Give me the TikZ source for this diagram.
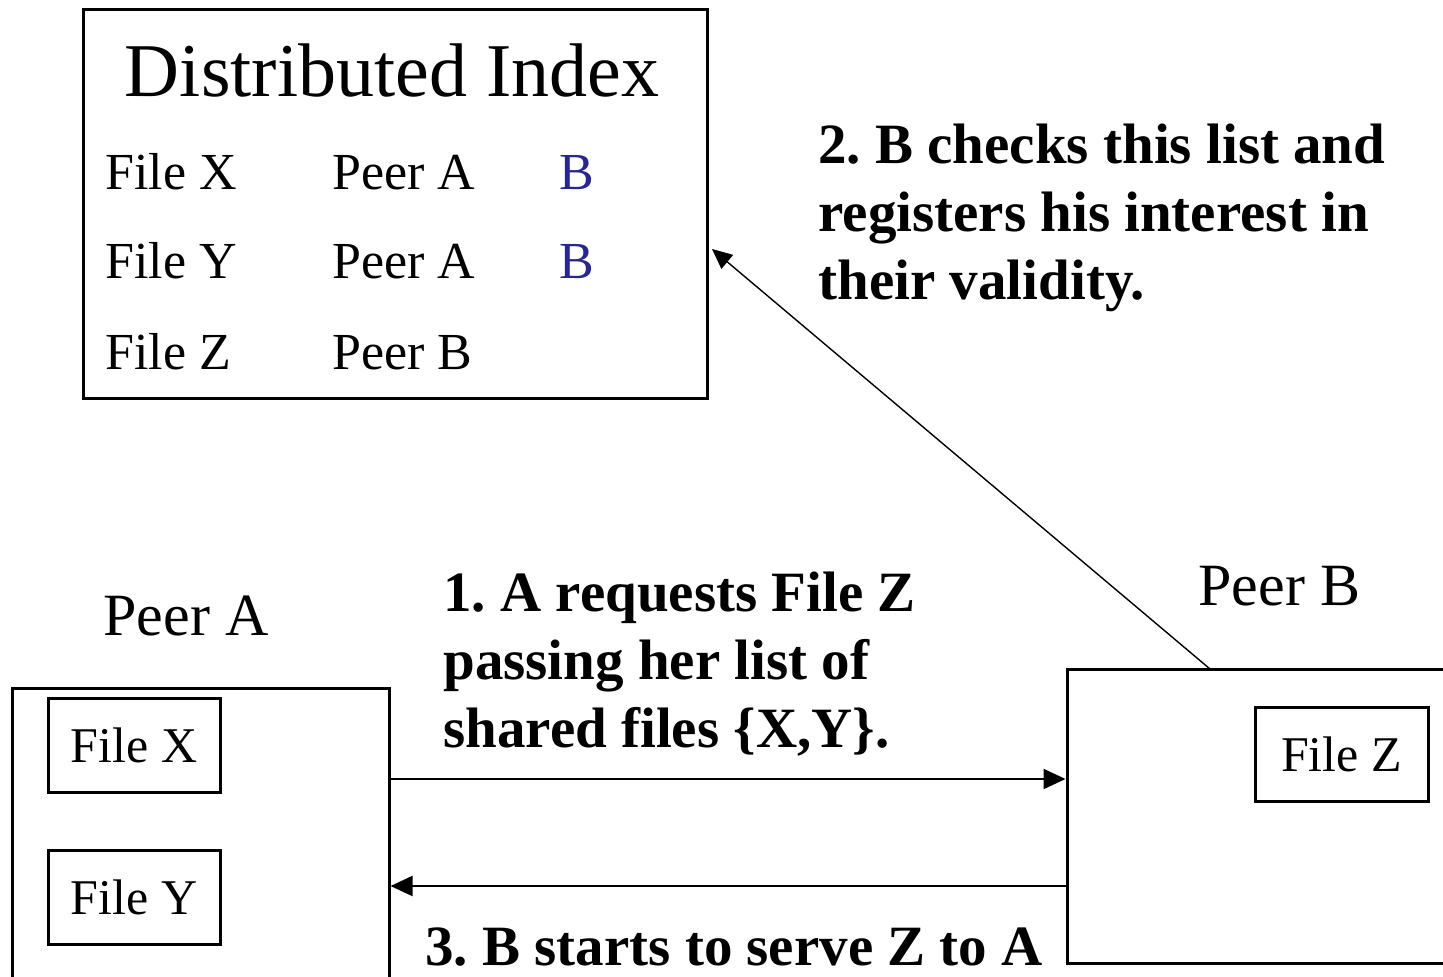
\documentclass[tikz,border=0pt]{standalone}
\usepackage{fontspec}
\setmainfont{Liberation Serif}
\usetikzlibrary{arrows.meta}
\definecolor{idxblue}{RGB}{40,40,140}
\frenchspacing
\tikzset{
  box/.style={draw, line width=1.5pt, inner sep=0pt},
  filebox/.style={box, minimum width=86pt, minimum height=47pt, font=\fontsize{25}{30}\selectfont},
  idxtext/.style={anchor=base west, inner sep=0pt, font=\fontsize{26}{31}\selectfont},
  peerlabel/.style={anchor=base west, inner sep=0pt, font=\fontsize{30}{36}\selectfont},
  steptext/.style={anchor=base west, inner sep=0pt, align=left, font=\fontsize{28.5}{34}\selectfont\bfseries},
  arr/.style={line width=1pt, -{Triangle[length=11pt,width=10pt]}},
  thinarr/.style={line width=0.7pt, -{Triangle[length=10pt,width=9pt]}}
}
\begin{document}
\begin{tikzpicture}[x=0.5pt,y=-0.5pt]
\useasboundingbox (0,0) rectangle (1443,977);
\clip (0,0) rectangle (1443,977);
\fill[white] (0,0) rectangle (1443,977);

% Distributed index
\node[box, minimum width=312pt, minimum height=194.5pt] (idx) at (395,204.5) {};
\node[anchor=base, inner sep=0pt, font=\fontsize{38}{44}\selectfont] (title) at (392,97) {Distributed Index};
\node[idxtext] (fx) at (105,190) {File X};
\node[idxtext] (fy) at (105,279) {File Y};
\node[idxtext] (fz) at (105,370) {File Z};
\node[idxtext] (px) at (332,190) {Peer A};
\node[idxtext] (py) at (332,279) {Peer A};
\node[idxtext] (pz) at (332,370) {Peer B};
\node[idxtext, text=idxblue] (bx) at (559,190) {B};
\node[idxtext, text=idxblue] (by) at (559,279) {B};

% Peer A
\node[peerlabel] (palabel) at (103,635) {Peer A};
\node[box, minimum width=188.5pt, minimum height=156pt] (pa) at (200.5,844) {};
\node[filebox] (pax) at (134,745) {File X};
\node[filebox] (pay) at (134,897.5) {File Y};

% Peer B
\node[peerlabel] (pblabel) at (1198,605) {Peer B};
\node[box, minimum width=201.5pt, minimum height=147pt] (pb) at (1268.5,816) {};
\node[filebox, minimum width=86.5pt] (pbz) at (1341.5,754.5) {File Z};

% step texts (base anchor = baseline of last line)
\node[steptext] (s1) at (443,747) {1. A requests File Z\\passing her list of\\shared files \{X,Y\}.};
\node[steptext] (s2) at (818,300) {2. B checks this list and\\registers his interest in\\their validity.};
\node[steptext] (s3) at (425,965) {3. B starts to serve Z to A};

% connectors
\coordinate (y1) at (0,779);
\coordinate (y3) at (0,886);
\draw[arr] (pa.east |- y1) -- (pb.west |- y1);
\draw[arr] (pb.west |- y3) -- (pa.east |- y3);
\coordinate (a2s) at (1210,669);
\coordinate (a2e) at (712,249);
\draw[thinarr] (a2s) -- (a2e);
\end{tikzpicture}
\end{document}
